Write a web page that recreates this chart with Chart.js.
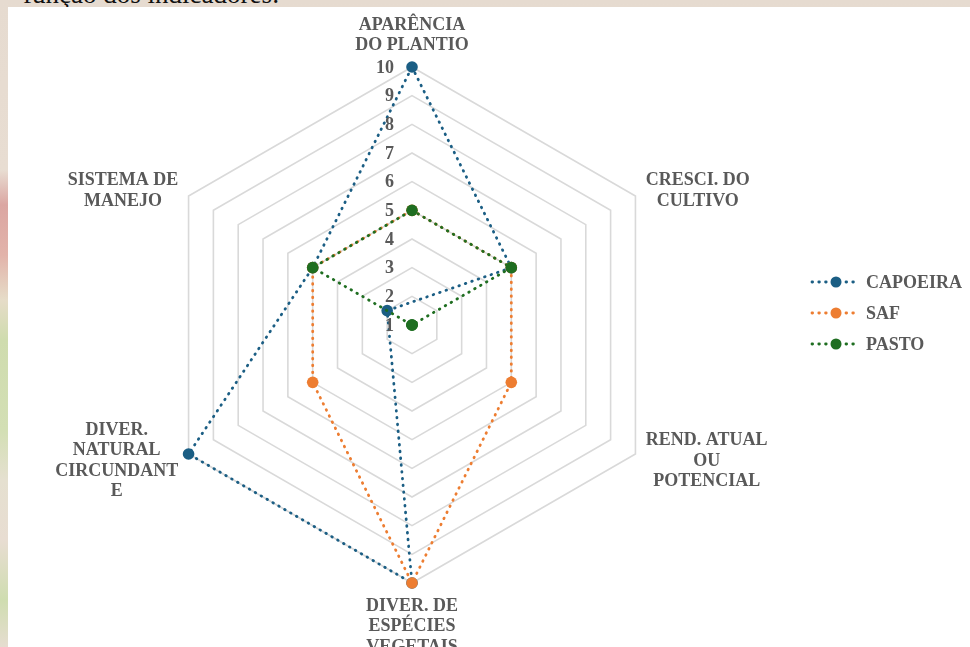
<!DOCTYPE html>
<html lang="pt">
<head>
  <meta charset="UTF-8">
  <title>Indicadores</title>
  <script src="https://cdn.jsdelivr.net/npm/chart.js@4"></script>
  <style>
    html, body { margin: 0; padding: 0; }
    body {
      width: 970px; height: 647px; overflow: hidden; position: relative;
      background: linear-gradient(#e6dbd0 0px, #e8ddd2 170px, #dba6a2 205px, #e2b3aa 255px, #e6dcc8 300px,
        #cfdcae 340px, #d3dfb4 430px, #e5e0d0 480px, #e8ddd2 540px, #cfddb0 600px, #e6ddd0 647px);
    }
    #topText {
      position: absolute; left: 23px; top: -19px;
      font: 27px/27px "Liberation Serif", serif; color: #111; white-space: nowrap;
    }
    #panel { position: absolute; left: 8px; top: 7px; right: 0; bottom: 0; background: #fff; }
    #myChart { position: absolute; left: 0; top: 0; }
  </style>
</head>

<body>
  <div id="topText">função dos indicadores:</div>
  <div id="panel"></div>
  <canvas id="myChart" width="970" height="647"></canvas>

<script>
  // axis labels (already split in lines as in the original)
  const labels = [
    ['APARÊNCIA', 'DO PLANTIO'],
    ['CRESCI. DO', 'CULTIVO'],
    ['REND. ATUAL', 'OU', 'POTENCIAL'],
    ['DIVER. DE', 'ESPÉCIES', 'VEGETAIS'],
    ['DIVER.', 'NATURAL', 'CIRCUNDANT', 'E'],
    ['SISTEMA DE', 'MANEJO']
  ];
  const capoeira = [10, 5, 0, 10, 10, 5];
  const saf = [5, 5, 5, 10, 5, 5];
  const pasto = [5, 5, 1, 1, 1, 5];
  const seriesNames = ['CAPOEIRA', 'SAF', 'PASTO'];
  const colors = ['#1b5e84', '#ed7d31', '#1f6e21'];
  const scaleMin = 1;
  const scaleMax = 10;

  const textColor = '#595959';
  const textFont = 'bold 18px "Liberation Serif", serif';
  const dots = [0.6, 6.2];

  // tick labels, category labels and legend drawn by hand (Excel look)
  const extras = {
    id: 'extras',
    afterDraw(chart) {
      const ctx = chart.ctx;
      const r = chart.scales.r;
      ctx.save();
      ctx.fillStyle = textColor;
      ctx.font = textFont;

      ctx.textAlign = 'right';
      ctx.textBaseline = 'middle';
      r.ticks.forEach(t => {
        const p = r.getPointPositionForValue(0, t.value);
        ctx.fillText(t.label, p.x - 18, p.y + 1);
      });

      const lh = 20.5;
      ctx.textAlign = 'center';
      chart.data.labels.forEach((lines, i) => {
        const p = r.getPointPosition(i, r.drawingArea + 12);
        const w = Math.max(...lines.map(s => ctx.measureText(s).width));
        const h = lines.length * lh;
        const dx = p.x - r.xCenter;
        let cx, top;
        if (Math.abs(dx) < 1) {
          cx = p.x;
          top = p.y < r.yCenter ? p.y - h : p.y;
        } else {
          cx = dx > 0 ? p.x + w / 2 : p.x - w / 2;
          top = p.y - h / 2;
        }
        lines.forEach((s, j) => ctx.fillText(s, cx, top + lh * (j + 0.5) + 1));
      });

      // legend
      ctx.textAlign = 'left';
      chart.data.datasets.forEach((ds, i) => {
        const y = 282 + i * 31;
        ctx.strokeStyle = ds.borderColor;
        ctx.lineWidth = 2.8;
        ctx.lineCap = 'round';
        ctx.setLineDash(dots);
        ctx.beginPath();
        ctx.moveTo(812, y);
        ctx.lineTo(858, y);
        ctx.stroke();
        ctx.setLineDash([]);
        ctx.fillStyle = ds.borderColor;
        ctx.beginPath();
        ctx.arc(836, y, 5.5, 0, Math.PI * 2);
        ctx.fill();
        ctx.fillStyle = textColor;
        ctx.fillText(ds.label, 866, y + 1);
      });
      ctx.restore();
    }
  };

  const seriesData = [capoeira, saf, pasto];
  const datasets = seriesData.map((d, i) => ({
    label: seriesNames[i],
    data: d,
    borderColor: colors[i],
    pointBackgroundColor: colors[i],
    pointBorderColor: colors[i],
    order: 3 - i
  }));

  new Chart(document.getElementById('myChart'), {
    type: 'radar',
    data: { labels: labels, datasets: datasets },
    options: {
      responsive: false,
      animation: false,
      devicePixelRatio: 1,
      layout: { padding: { left: 154, right: 300, top: 67, bottom: 64 } },
      elements: {
        line: { borderWidth: 2.8, borderDash: dots, borderCapStyle: 'round', fill: false, tension: 0 },
        point: { radius: 5.8, borderWidth: 0, hoverRadius: 5.8 }
      },
      scales: {
        r: {
          min: scaleMin,
          max: scaleMax,
          ticks: { stepSize: 1, display: false },
          grid: { color: '#d9d9d9', lineWidth: 1.6 },
          angleLines: { display: false },
          pointLabels: { display: false }
        }
      },
      plugins: {
        legend: { display: false },
        tooltip: { enabled: false }
      }
    },
    plugins: [extras]
  });
</script>
</body>
</html>
